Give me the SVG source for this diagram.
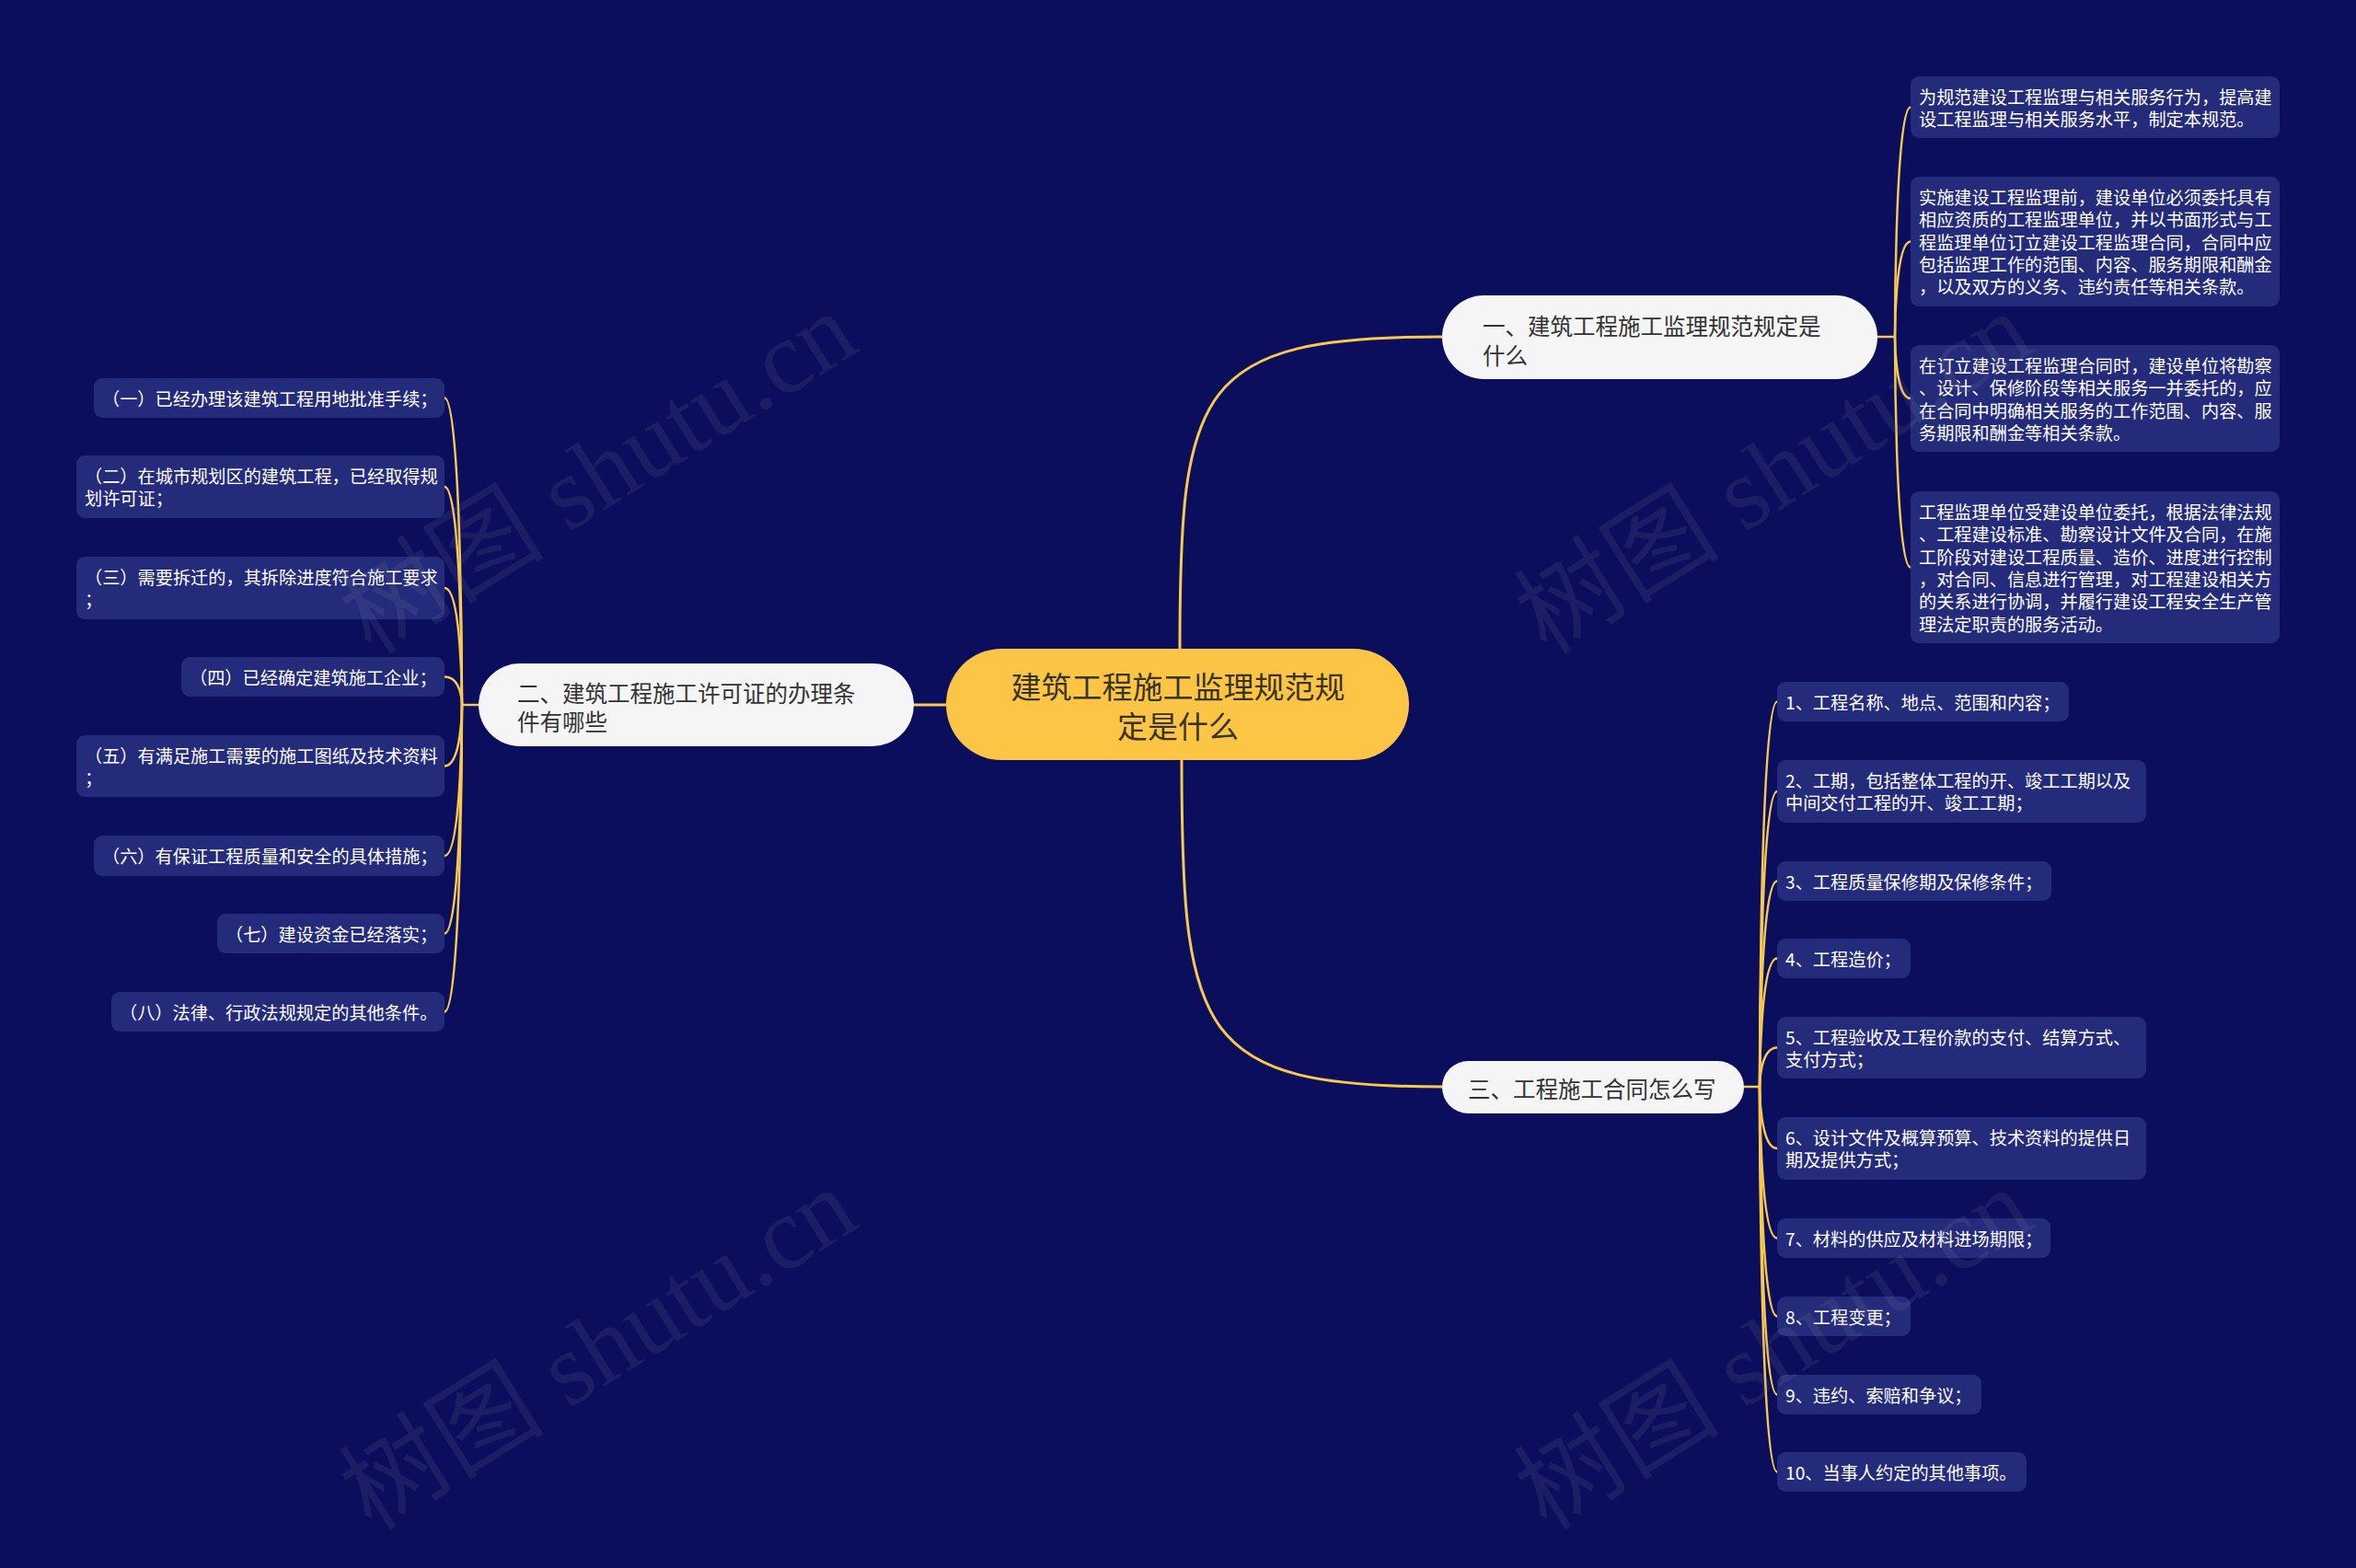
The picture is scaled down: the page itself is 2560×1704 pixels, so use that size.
<svg xmlns="http://www.w3.org/2000/svg" width="2560" height="1704" viewBox="0 0 2560 1704">
<style>
.bg{fill:#0B0E5C}
.leaf rect{fill:#242B7B}
.leaf text{font-family:"Noto Sans CJK SC","Noto Sans",sans-serif;font-size:19.2px;fill:#FFFFFF;dominant-baseline:central}
.main rect{fill:#F5F5F5}
.main text{font-family:"Noto Sans CJK SC","Noto Sans",sans-serif;font-size:24.5px;fill:#333333;dominant-baseline:central}
.root rect{fill:#FCC546}
.root text{font-family:"Noto Sans CJK SC","Noto Sans",sans-serif;font-size:33px;fill:#38341E;dominant-baseline:central;text-anchor:middle}
.c1{fill:none;stroke:#F7C94E;stroke-width:3}
.c2{fill:none;stroke:#F7C94E;stroke-width:2.5}
.wm{font-family:"Liberation Serif","Noto Sans CJK SC",serif;font-size:112px;fill:#8A8AA0;fill-opacity:0.13;text-anchor:middle;dominant-baseline:central}
</style>
<rect class="bg" x="0" y="0" width="2560" height="1704"/>

<g id="connectors">
<path class="c1" d="M1282 705 C1282 420 1300 366 1567 366"/>
<path class="c1" d="M1284 826 C1284 1127 1302 1181 1567 1181"/>
<path class="c1" d="M1028 766 H993"/>
<path class="c2" d="M2040 366 H2059"/>
<path class="c2" d="M2059 366 C2059 366 2059 116.5 2076 116.5"/>
<path class="c2" d="M2059 366 C2059 366 2059 262.5 2076 262.5"/>
<path class="c2" d="M2059 366 C2059 366 2059 433 2076 433"/>
<path class="c2" d="M2059 366 C2059 366 2059 616.5 2076 616.5"/>
<path class="c2" d="M520 766 H502"/>
<path class="c2" d="M502 766 C502 766 502 432.5 483 432.5"/>
<path class="c2" d="M502 766 C502 766 502 529 483 529"/>
<path class="c2" d="M502 766 C502 766 502 639 483 639"/>
<path class="c2" d="M502 766 C502 766 502 735.5 483 735.5"/>
<path class="c2" d="M502 766 C502 766 502 832.5 483 832.5"/>
<path class="c2" d="M502 766 C502 766 502 930 483 930"/>
<path class="c2" d="M502 766 C502 766 502 1014.5 483 1014.5"/>
<path class="c2" d="M502 766 C502 766 502 1099.5 483 1099.5"/>
<path class="c2" d="M1895 1181 H1912"/>
<path class="c2" d="M1912 1181 C1912 1181 1912 762.5 1931 762.5"/>
<path class="c2" d="M1912 1181 C1912 1181 1912 860 1931 860"/>
<path class="c2" d="M1912 1181 C1912 1181 1912 957.5 1931 957.5"/>
<path class="c2" d="M1912 1181 C1912 1181 1912 1041.5 1931 1041.5"/>
<path class="c2" d="M1912 1181 C1912 1181 1912 1138.5 1931 1138.5"/>
<path class="c2" d="M1912 1181 C1912 1181 1912 1248 1931 1248"/>
<path class="c2" d="M1912 1181 C1912 1181 1912 1345.5 1931 1345.5"/>
<path class="c2" d="M1912 1181 C1912 1181 1912 1430.5 1931 1430.5"/>
<path class="c2" d="M1912 1181 C1912 1181 1912 1515.5 1931 1515.5"/>
<path class="c2" d="M1912 1181 C1912 1181 1912 1599.5 1931 1599.5"/>
</g>

<g id="root" class="root">
<rect x="1028" y="705" width="503" height="121" rx="60.5"/>
<text><tspan x="1280" y="745">建筑工程施工监理规范规</tspan><tspan x="1280" y="788">定是什么</tspan></text>
</g>

<g id="n1" class="main">
<rect x="1567" y="321" width="473" height="91" rx="45.5"/>
<text><tspan x="1611" y="353">一、建筑工程施工监理规范规定是</tspan><tspan x="1611" y="385">什么</tspan></text>
</g>
<g id="n2" class="main">
<rect x="520" y="721" width="473" height="90" rx="45"/>
<text><tspan x="562" y="752">二、建筑工程施工许可证的办理条</tspan><tspan x="562" y="783">件有哪些</tspan></text>
</g>
<g id="n3" class="main">
<rect x="1567" y="1153" width="328" height="57" rx="28.5"/>
<text x="1595" y="1182">三、工程施工合同怎么写</text>
</g>

<g id="n1-1" class="leaf">
<rect x="2076" y="83" width="401" height="67" rx="9"/>
<text><tspan x="2085" y="105">为规范建设工程监理与相关服务行为，提高建</tspan><tspan x="2085" y="129.3">设工程监理与相关服务水平，制定本规范。</tspan></text>
</g>
<g id="n1-2" class="leaf">
<rect x="2076" y="192" width="401" height="141" rx="9"/>
<text><tspan x="2085" y="214">实施建设工程监理前，建设单位必须委托具有</tspan><tspan x="2085" y="238.3">相应资质的工程监理单位，并以书面形式与工</tspan><tspan x="2085" y="262.6">程监理单位订立建设工程监理合同，合同中应</tspan><tspan x="2085" y="286.9">包括监理工作的范围、内容、服务期限和酬金</tspan><tspan x="2085" y="311.2">，以及双方的义务、违约责任等相关条款。</tspan></text>
</g>
<g id="n1-3" class="leaf">
<rect x="2076" y="375" width="401" height="116" rx="9"/>
<text><tspan x="2085" y="397">在订立建设工程监理合同时，建设单位将勘察</tspan><tspan x="2085" y="421.3">、设计、保修阶段等相关服务一并委托的，应</tspan><tspan x="2085" y="445.6">在合同中明确相关服务的工作范围、内容、服</tspan><tspan x="2085" y="469.9">务期限和酬金等相关条款。</tspan></text>
</g>
<g id="n1-4" class="leaf">
<rect x="2076" y="534" width="401" height="165" rx="9"/>
<text><tspan x="2085" y="556">工程监理单位受建设单位委托，根据法律法规</tspan><tspan x="2085" y="580.3">、工程建设标准、勘察设计文件及合同，在施</tspan><tspan x="2085" y="604.6">工阶段对建设工程质量、造价、进度进行控制</tspan><tspan x="2085" y="628.9">，对合同、信息进行管理，对工程建设相关方</tspan><tspan x="2085" y="653.2">的关系进行协调，并履行建设工程安全生产管</tspan><tspan x="2085" y="677.5">理法定职责的服务活动。</tspan></text>
</g>

<g id="n2-1" class="leaf">
<rect x="102" y="411" width="381" height="43" rx="9"/>
<text x="111" y="432.5">（一）已经办理该建筑工程用地批准手续；</text>
</g>
<g id="n2-2" class="leaf">
<rect x="83" y="495" width="400" height="68" rx="9"/>
<text><tspan x="92" y="516.8">（二）在城市规划区的建筑工程，已经取得规</tspan><tspan x="92" y="541.1">划许可证；</tspan></text>
</g>
<g id="n2-3" class="leaf">
<rect x="83" y="605" width="400" height="68" rx="9"/>
<text><tspan x="92" y="626.8">（三）需要拆迁的，其拆除进度符合施工要求</tspan><tspan x="92" y="651.1">；</tspan></text>
</g>
<g id="n2-4" class="leaf">
<rect x="197" y="714" width="286" height="43" rx="9"/>
<text x="206" y="735.5">（四）已经确定建筑施工企业；</text>
</g>
<g id="n2-5" class="leaf">
<rect x="83" y="799" width="400" height="67" rx="9"/>
<text><tspan x="92" y="820.8">（五）有满足施工需要的施工图纸及技术资料</tspan><tspan x="92" y="845.1">；</tspan></text>
</g>
<g id="n2-6" class="leaf">
<rect x="102" y="908" width="381" height="44" rx="9"/>
<text x="111" y="930">（六）有保证工程质量和安全的具体措施；</text>
</g>
<g id="n2-7" class="leaf">
<rect x="236" y="993" width="247" height="43" rx="9"/>
<text x="245" y="1014.5">（七）建设资金已经落实；</text>
</g>
<g id="n2-8" class="leaf">
<rect x="121" y="1078" width="362" height="43" rx="9"/>
<text x="130" y="1099.5">（八）法律、行政法规规定的其他条件。</text>
</g>

<g id="n3-1" class="leaf">
<rect x="1931" y="741" width="317" height="43" rx="9"/>
<text x="1940" y="762.5">1、工程名称、地点、范围和内容；</text>
</g>
<g id="n3-2" class="leaf">
<rect x="1931" y="826" width="401" height="68" rx="9"/>
<text><tspan x="1940" y="847.8">2、工期，包括整体工程的开、竣工工期以及</tspan><tspan x="1940" y="872.1">中间交付工程的开、竣工工期；</tspan></text>
</g>
<g id="n3-3" class="leaf">
<rect x="1931" y="936" width="298" height="43" rx="9"/>
<text x="1940" y="957.5">3、工程质量保修期及保修条件；</text>
</g>
<g id="n3-4" class="leaf">
<rect x="1931" y="1020" width="145" height="43" rx="9"/>
<text x="1940" y="1041.5">4、工程造价；</text>
</g>
<g id="n3-5" class="leaf">
<rect x="1931" y="1105" width="401" height="67" rx="9"/>
<text><tspan x="1940" y="1126.8">5、工程验收及工程价款的支付、结算方式、</tspan><tspan x="1940" y="1151.1">支付方式；</tspan></text>
</g>
<g id="n3-6" class="leaf">
<rect x="1931" y="1214" width="401" height="68" rx="9"/>
<text><tspan x="1940" y="1235.8">6、设计文件及概算预算、技术资料的提供日</tspan><tspan x="1940" y="1260.1">期及提供方式；</tspan></text>
</g>
<g id="n3-7" class="leaf">
<rect x="1931" y="1324" width="297" height="43" rx="9"/>
<text x="1940" y="1345.5">7、材料的供应及材料进场期限；</text>
</g>
<g id="n3-8" class="leaf">
<rect x="1931" y="1409" width="145" height="43" rx="9"/>
<text x="1940" y="1430.5">8、工程变更；</text>
</g>
<g id="n3-9" class="leaf">
<rect x="1931" y="1494" width="222" height="43" rx="9"/>
<text x="1940" y="1515.5">9、违约、索赔和争议；</text>
</g>
<g id="n3-10" class="leaf">
<rect x="1931" y="1578" width="271" height="43" rx="9"/>
<text x="1940" y="1599.5">10、当事人约定的其他事项。</text>
</g>

<g id="watermarks">
<text class="wm" x="650" y="514" transform="rotate(-32 650 514)">树图 shutu.cn</text>
<text class="wm" x="650" y="1466" transform="rotate(-32 650 1466)">树图 shutu.cn</text>
<text class="wm" x="1927" y="514" transform="rotate(-32 1927 514)">树图 shutu.cn</text>
<text class="wm" x="1927" y="1466" transform="rotate(-32 1927 1466)">树图 shutu.cn</text>
</g>
</svg>
